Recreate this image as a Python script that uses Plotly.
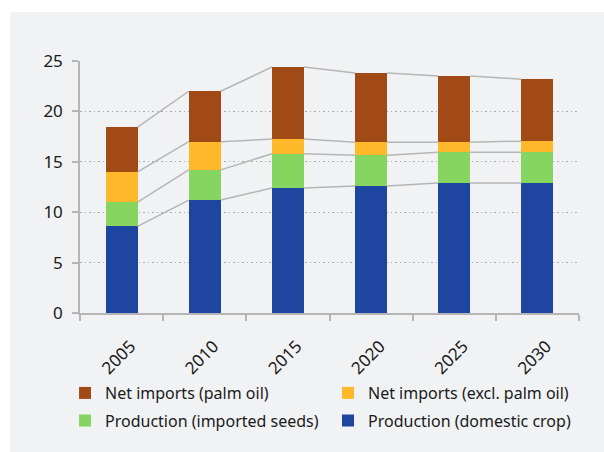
""" Stacked bars of vegetable oil supply with connector lines """
import plotly.graph_objects as go

years = ['2005', '2010', '2015', '2020', '2025', '2030']
prod_domestic = [8.6, 11.2, 12.4, 12.6, 12.9, 12.9]
prod_imported = [2.4, 3.0, 3.4, 3.05, 3.05, 3.05]
imports_excl_palm = [3.0, 2.8, 1.45, 1.3, 1.0, 1.1]
imports_palm = [4.45, 5.0, 7.15, 6.85, 6.55, 6.15]

names = ['Production (domestic crop)', 'Production (imported seeds)',
         'Net imports (excl. palm oil)', 'Net imports (palm oil)']
colors = ['#1E459F', '#85D560', '#FDB92A', '#A24A15']
series = [prod_domestic, prod_imported, imports_excl_palm, imports_palm]
# one small legend per entry, so the 2x2 grid can be placed exactly
legend_ids = ['legend4', 'legend3', 'legend2', 'legend']

BAR_W = 0.385
FONT = 'Noto Sans'
GRAY = '#b5b5b5'

fig = go.Figure()
xs = list(range(len(years)))

# connector lines between the bars, at each stack boundary
cum = [0] * len(years)
for values in series:
    cum = [c + v for c, v in zip(cum, values)]
    lx, ly = [], []
    for i in range(len(years) - 1):
        lx += [i + BAR_W / 2, i + 1 - BAR_W / 2, None]
        ly += [cum[i], cum[i + 1], None]
    fig.add_trace(go.Scatter(x=lx, y=ly, mode='lines', showlegend=False,
                             line={'color': GRAY, 'width': 1.5},
                             hoverinfo='skip'))

for name, color, values, leg in zip(names, colors, series, legend_ids):
    fig.add_trace(go.Bar(x=xs, y=values, name=name, marker_color=color,
                         marker_line_width=0, width=BAR_W, legend=leg))

def legend_box(x, y):
    return {'x': x, 'xanchor': 'left', 'y': y, 'yanchor': 'middle',
            'font': {'size': 16}, 'bgcolor': 'rgba(0,0,0,0)'}

fig.update_layout(
    barmode='stack',
    width=604, height=452,
    margin={'l': 80, 'r': 25, 't': 61, 'b': 139, 'autoexpand': False},
    paper_bgcolor='white',
    plot_bgcolor='rgba(0,0,0,0)',
    font={'family': FONT, 'color': '#1a1a1a'},
    shapes=[{
        'type': 'rect', 'xref': 'paper', 'yref': 'paper', 'layer': 'below',
        'x0': -0.1403, 'x1': 1.1, 'y0': -0.6, 'y1': 1.194,
        'fillcolor': '#f1f2f4', 'line': {'width': 0},
    }],
    xaxis={
        'range': [-0.5, 5.5],
        'tickvals': xs, 'ticktext': years,
        'tickangle': -45, 'ticks': '', 'tickfont': {'size': 17},
        'ticklabelshift': 9, 'ticklabelstandoff': 15,
        'showgrid': False, 'zeroline': False,
        'showline': True, 'linecolor': GRAY, 'linewidth': 1.5,
        'minor': {'tick0': -0.5, 'dtick': 1, 'ticks': 'outside',
                  'ticklen': 6, 'tickcolor': GRAY, 'tickwidth': 1.5,
                  'showgrid': False},
    },
    yaxis={
        'range': [0, 25], 'dtick': 5,
        'tickfont': {'size': 17}, 'ticklabelstandoff': 6,
        'ticks': 'outside', 'ticklen': 6, 'tickcolor': GRAY, 'tickwidth': 1.5,
        'showline': True, 'linecolor': GRAY, 'linewidth': 1.5,
        'gridcolor': '#aaaaaa', 'griddash': '1.5px,3px', 'gridwidth': 1.2,
        'zeroline': False,
    },
    legend=legend_box(-0.030, -0.3175),
    legend2=legend_box(0.497, -0.3175),
    legend3=legend_box(-0.030, -0.4266),
    legend4=legend_box(0.497, -0.4266),
)

fig.write_html('out.html', config={'displayModeBar': False},
               post_script="document.body.style.margin='0';")
